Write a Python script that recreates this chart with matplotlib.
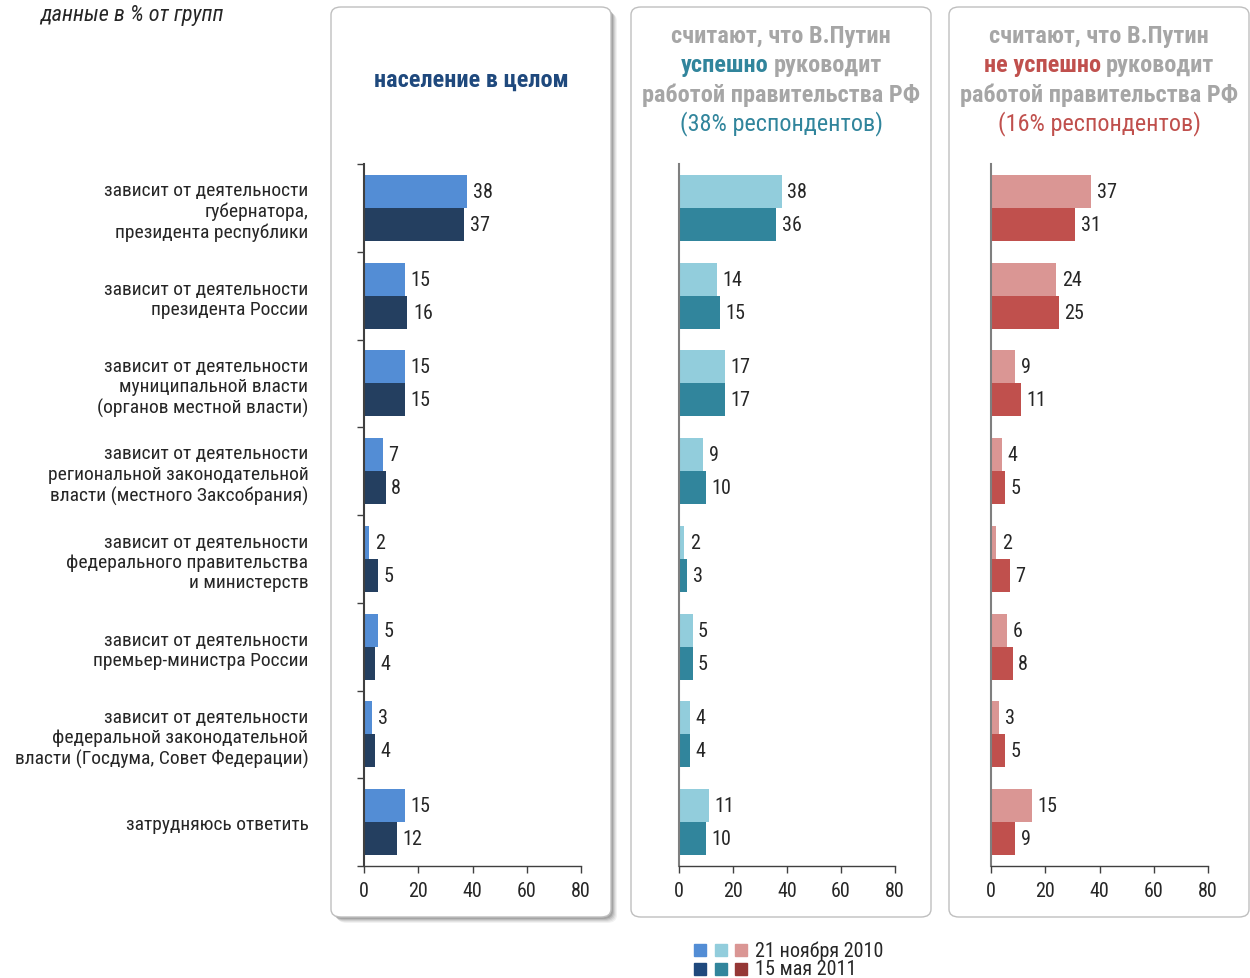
import matplotlib
matplotlib.use("Agg")
import matplotlib.pyplot as plt
from matplotlib.patches import FancyBboxPatch
import numpy as np

plt.rcParams['font.family'] = ['Liberation Sans Narrow', 'Roboto Condensed', 'Roboto', 'DejaVu Sans']

categories = [
    "зависит от деятельности\nгубернатора,\nпрезидента республики",
    "зависит от деятельности\nпрезидента России",
    "зависит от деятельности\nмуниципальной власти\n(органов местной власти)",
    "зависит от деятельности\nрегиональной законодательной\nвласти (местного Заксобрания)",
    "зависит от деятельности\nфедерального правительства\nи министерств",
    "зависит от деятельности\nпремьер-министра России",
    "зависит от деятельности\nфедеральной законодательной\nвласти (Госдума, Совет Федерации)",
    "затрудняюсь ответить",
]
all_2010 = [38, 15, 15, 7, 2, 5, 3, 15]
all_2011 = [37, 16, 15, 8, 5, 4, 4, 12]
succ_2010 = [38, 14, 17, 9, 2, 5, 4, 11]
succ_2011 = [36, 15, 17, 10, 3, 5, 4, 10]
fail_2010 = [37, 24, 9, 4, 2, 6, 3, 15]
fail_2011 = [31, 25, 11, 5, 7, 8, 5, 9]
xticks = [0, 20, 40, 60, 80]
legend_labels = ["21 ноября 2010", "15 мая 2011"]

W, H = 1250, 979
fig = plt.figure(figsize=(W / 100, H / 100), dpi=100)
fig.patch.set_facecolor("white")

def fx(px):
    return px / W

def fy(py):
    return 1 - py / H

TXT = "#262626"
GRAY = "#A6A6A6"

# panel boxes
for i, a in enumerate([0.05, 0.06, 0.08, 0.10, 0.12]):
    off = 6 - i
    sh = FancyBboxPatch((fx(331 + off), fy(918 + off)), fx(280), 910 / H,
                        boxstyle="round,pad=0,rounding_size=0.008",
                        transform=fig.transFigure, facecolor="#000000",
                        edgecolor="none", alpha=a, zorder=-3)
    fig.patches.append(sh)
box1 = FancyBboxPatch((fx(331), fy(918)), fx(280), 910 / H,
                      boxstyle="round,pad=0,rounding_size=0.008",
                      transform=fig.transFigure, facecolor="white",
                      edgecolor="#BFBFBF", lw=1.0, zorder=-2)
fig.patches.append(box1)
for x0 in (631, 949):
    b = FancyBboxPatch((fx(x0), fy(918)), fx(300), 910 / H,
                       boxstyle="round,pad=0,rounding_size=0.008",
                       transform=fig.transFigure, facecolor="white",
                       edgecolor="#BFBFBF", lw=1.0, zorder=-2)
    fig.patches.append(b)

bottom = fy(867)
height = (867 - 165) / H
panels = [
    (364, 217, all_2010, all_2011, "#538DD5", "#243F60", True, "#404040"),
    (679, 216, succ_2010, succ_2011, "#92CDDC", "#31859C", False, "#7F7F7F"),
    (991, 217, fail_2010, fail_2011, "#DA9694", "#C0504D", False, "#7F7F7F"),
]

n = len(categories)
y = np.arange(n)
bh = 0.375
for left, width, v1, v2, c1, c2, show_labels, spc in panels:
    ax = fig.add_axes([fx(left), bottom, fx(width), height])
    ax.set_facecolor("none")
    b1 = ax.barh(y - bh / 2, v1, height=bh, color=c1, zorder=2)
    b2 = ax.barh(y + bh / 2, v2, height=bh, color=c2, zorder=2)
    for bars, vals in ((b1, v1), (b2, v2)):
        for rect, v in zip(bars, vals):
            ax.annotate(str(v), xy=(v, rect.get_y() + rect.get_height() / 2),
                        xytext=(4, 0), textcoords="offset points",
                        va="center", ha="left", fontsize=14.5, color=TXT)
    ax.set_xlim(0, 80)
    ax.set_ylim(n - 0.5, -0.5)
    ax.set_xticks(xticks)
    ax.set_xticklabels([str(t) for t in xticks], fontsize=14.5, color=TXT)
    ax.tick_params(axis="x", length=5, width=1, color="#404040", pad=6)
    for s in ("top", "right"):
        ax.spines[s].set_visible(False)
    ax.spines["left"].set_color(spc)
    ax.spines["left"].set_linewidth(1.5)
    ax.spines["bottom"].set_color("#404040")
    ax.spines["bottom"].set_linewidth(1)
    if show_labels:
        ax.set_yticks(y)
        ax.set_yticklabels(categories, fontsize=14, color=TXT, linespacing=1.17)
        ax.tick_params(axis="y", which="major", length=0, pad=40)
        ax.set_yticks(np.arange(n + 1) - 0.5, minor=True)
        ax.tick_params(axis="y", which="minor", length=5, width=1, color="#404040")
    else:
        ax.set_yticks([])

fig.text(fx(40), fy(16), "данные в % от групп", fontsize=16, style="italic",
         color=TXT, ha="left", va="center")
fig.text(fx(471), fy(80), "население в целом", fontsize=17.5, weight="bold",
         color="#1F497D", ha="center", va="center")

fig.canvas.draw()
renderer = fig.canvas.get_renderer()

def colored_line(xc, ypx, parts, size):
    texts = []
    for s, col, wt in parts:
        t = fig.text(0, fy(ypx), s, color=col, weight=wt, fontsize=size,
                     ha="left", va="center")
        texts.append(t)
    widths = [t.get_window_extent(renderer).width for t in texts]
    gap = size * 0.3
    total = sum(widths) + gap * (len(parts) - 1)
    x = xc - total / 2
    for t, w in zip(texts, widths):
        t.set_x(fx(x))
        x += w + gap

TEAL = "#31859C"
RED = "#C0504D"
TS = 17.5
colored_line(781, 36, [("считают, что В.Путин", GRAY, "bold")], TS)
colored_line(781, 66, [("успешно", TEAL, "bold"), ("руководит", GRAY, "bold")], TS)
colored_line(781, 95, [("работой правительства РФ", GRAY, "bold")], TS)
colored_line(781, 124, [("(38% респондентов)", TEAL, "normal")], TS)
colored_line(1099, 36, [("считают, что В.Путин", GRAY, "bold")], TS)
colored_line(1099, 66, [("не успешно", RED, "bold"), ("руководит", GRAY, "bold")], TS)
colored_line(1099, 95, [("работой правительства РФ", GRAY, "bold")], TS)
colored_line(1099, 124, [("(16% респондентов)", RED, "normal")], TS)

# legend
leg_rows = [(951, ["#538DD5", "#92CDDC", "#DA9694"], legend_labels[0]),
            (970, ["#1F497D", "#31859C", "#953735"], legend_labels[1])]
for ypx, cols, lab in leg_rows:
    for xpx, c in zip((700, 721, 741), cols):
        fig.patches.append(plt.Rectangle((fx(xpx - 6), fy(ypx + 6)), fx(12), 12 / H,
                                         transform=fig.transFigure, color=c))
    fig.text(fx(755), fy(ypx), lab, fontsize=14.5, color=TXT, ha="left", va="center")

fig.savefig("out.png", dpi=100, facecolor="white")
